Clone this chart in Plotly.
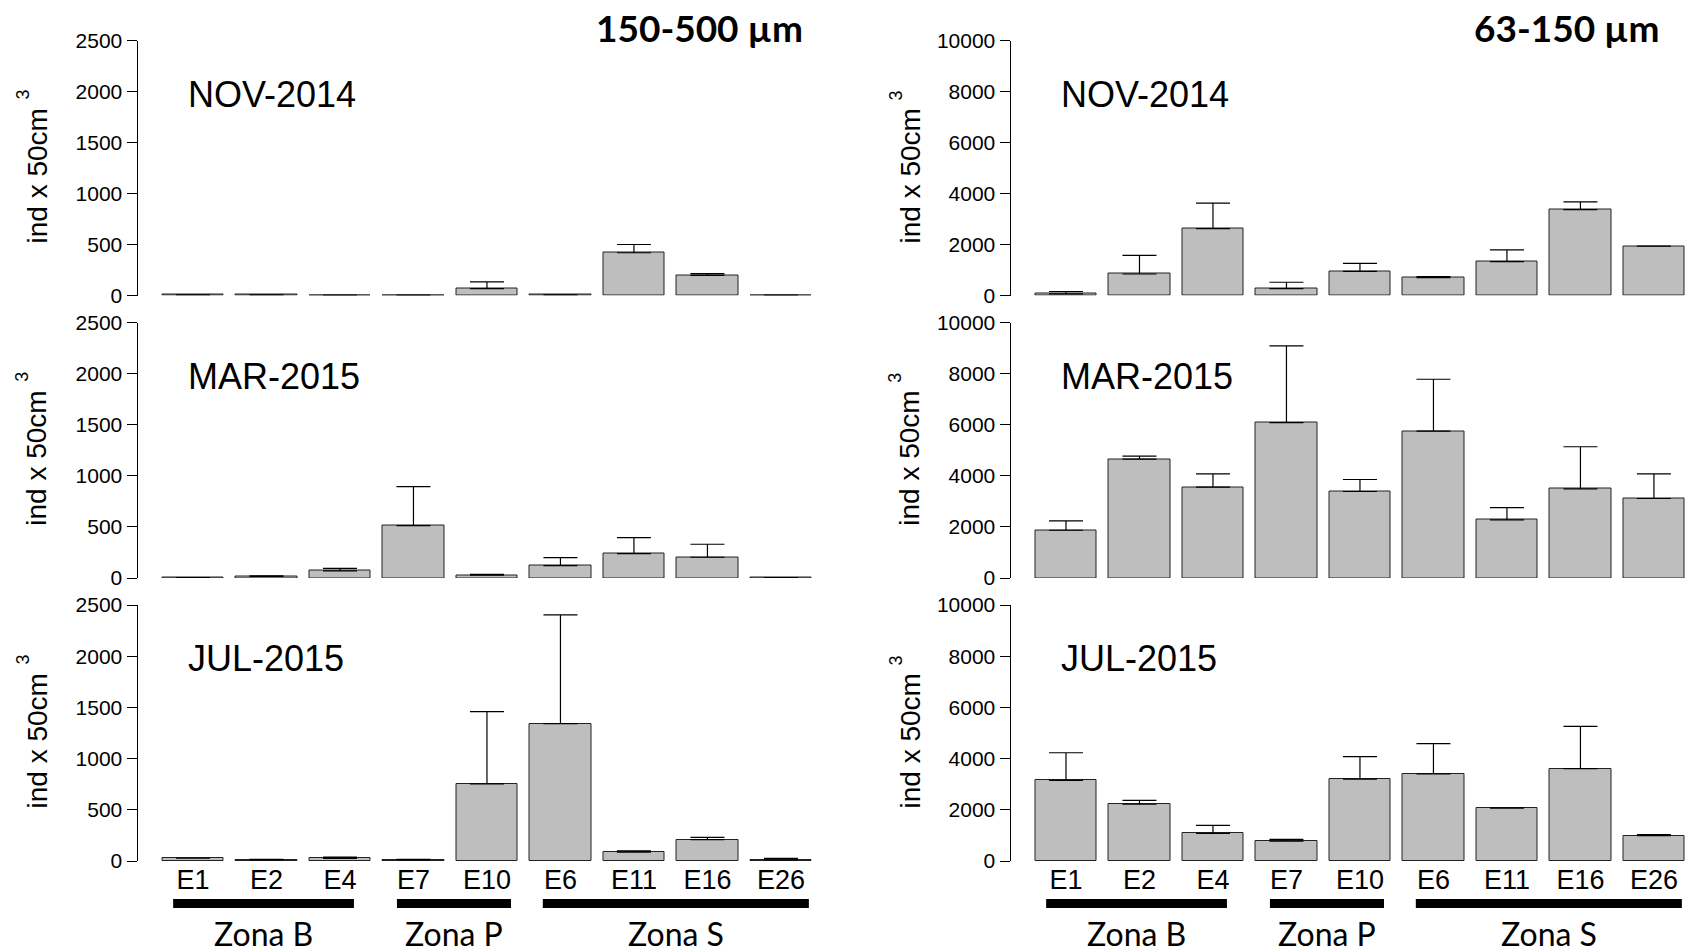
import plotly.graph_objects as go

# ---------------- data ----------------
stations = ["E1", "E2", "E4", "E7", "E10", "E6", "E11", "E16", "E26"]
months = ["NOV-2014", "MAR-2015", "JUL-2015"]

# 150-500 µm (means and upper error)
nov_150 = [5, 5, 3, 3, 68, 5, 419, 198, 3]
nov_150_se = [1, 1, 1, 1, 65, 1, 81, 16, 1]
mar_150 = [3, 16, 69, 513, 29, 121, 239, 203, 3]
mar_150_se = [0, 4, 26, 382, 7, 78, 156, 127, 0]
jul_150 = [29, 10, 26, 10, 753, 1341, 87, 208, 10]
jul_150_se = [0, 6, 12, 6, 705, 1062, 13, 23, 16]

# 63-150 µm
nov_63 = [65, 844, 2623, 273, 948, 701, 1325, 3364, 1935]
nov_63_se = [91, 727, 1000, 246, 312, 39, 467, 311, 0]
mar_63 = [1869, 4654, 3556, 6078, 3386, 5752, 2275, 3490, 3111]
mar_63_se = [366, 117, 522, 3007, 470, 2026, 483, 1647, 967]
jul_63 = [3146, 2217, 1083, 777, 3197, 3401, 2064, 3605, 994]
jul_63_se = [1083, 152, 306, 64, 879, 1185, 12, 1656, 38]

size_titles = ["150-500 µm", "63-150 µm"]
y_max = [2500, 10000]
y_dtick = [500, 2000]

zones = ["Zona B", "Zona P", "Zona S"]
zone_start = [-0.27, 2.775, 4.76]
zone_end = [2.19, 4.327, 8.38]

values = [[nov_150, mar_150, jul_150], [nov_63, mar_63, jul_63]]
errors = [[nov_150_se, mar_150_se, jul_150_se], [nov_63_se, mar_63_se, jul_63_se]]

# ---------------- layout geometry ----------------
W, H = 1689, 952
x_dom = [[137.5 / W, 814 / W], [1010.5 / W, 1687 / W]]
row_px = [(40.5, 295.5), (322.5, 578), (605, 861)]
y_dom = [[1 - b / H, 1 - t / H] for (t, b) in row_px]
x_range = [-0.755, 8.45]

NUM_FONT = "Liberation Sans, Arial, sans-serif"
CAL_FONT = "Lato, Open Sans, sans-serif"

fig = go.Figure()
layout = {}
annotations = []
shapes = []

for c in range(2):
    for r in range(3):
        idx = r * 2 + c + 1
        xa = "x" if idx == 1 else f"x{idx}"
        ya = "y" if idx == 1 else f"y{idx}"
        fig.add_trace(go.Bar(
            x=stations, y=values[c][r],
            xaxis=xa, yaxis=ya,
            width=0.833,
            marker=dict(color="#BEBEBE", line=dict(color="#222222", width=1)),
            error_y=dict(type="data", array=errors[c][r], arrayminus=[0] * 9,
                         symmetric=False, color="black", thickness=1.2, width=17),
            showlegend=False, hoverinfo="x+y",
        ))
        bottom = (r == 2)
        layout["xaxis" if idx == 1 else f"xaxis{idx}"] = dict(
            domain=x_dom[c], anchor=ya, type="category",
            categoryorder="array", categoryarray=stations,
            range=x_range, showline=False, showgrid=False, zeroline=False,
            automargin=False,
            showticklabels=bottom, ticks="",
            tickfont=dict(family=NUM_FONT, size=27, color="black"),
        )
        layout["yaxis" if idx == 1 else f"yaxis{idx}"] = dict(
            domain=y_dom[r], anchor=xa, range=[0, y_max[c]],
            dtick=y_dtick[c], tick0=0, tickformat="d",
            showline=True, linecolor="black", automargin=False,
            linewidth=1, ticks="outside", ticklen=10, tickcolor="black",
            showgrid=False, zeroline=False,
            tickfont=dict(family=NUM_FONT, size=21, color="black"),
        )
        # month label
        annotations.append(dict(
            xref=xa, yref=ya, x=-0.1, y=0.79 * y_max[c],
            text=months[r], showarrow=False, xanchor="left", yanchor="middle",
            font=dict(family=NUM_FONT, size=36, color="black"),
        ))
        # y-axis title (main text + raised superscript)
        pc = (row_px[r][0] + row_px[r][1]) / 2
        tx = [36.5, 909.5][c]
        annotations.append(dict(
            xref="paper", yref="paper", x=tx / W, y=1 - (pc + 8) / H,
            text="ind x 50cm", textangle=-90, showarrow=False,
            xanchor="center", yanchor="middle",
            font=dict(family=NUM_FONT, size=28, color="black"),
        ))
        annotations.append(dict(
            xref="paper", yref="paper", x=(tx - 14) / W, y=1 - (pc - 73) / H,
            text="3", textangle=-90, showarrow=False,
            xanchor="center", yanchor="middle",
            font=dict(family=NUM_FONT, size=18, color="black"),
        ))
    # bottom zone bars and labels
    xa_b = "x5" if c == 0 else "x6"
    for zname, zs, ze in zip(zones, zone_start, zone_end):
        shapes.append(dict(type="rect", xref=xa_b, yref="paper",
                           x0=zs, x1=ze, y0=1 - 908 / H, y1=1 - 899 / H,
                           fillcolor="black", line=dict(width=0)))
        annotations.append(dict(
            xref=xa_b, yref="paper", x=(zs + ze) / 2, y=1 - 933 / H,
            text=zname, showarrow=False, xanchor="center", yanchor="middle",
            font=dict(family=CAL_FONT, size=32, color="black"),
        ))
    # size title
    annotations.append(dict(
        xref="paper", yref="paper", x=[805, 1662][c] / W, y=1 - 27.5 / H,
        text=f"<b>{size_titles[c]}</b>", showarrow=False,
        xanchor="right", yanchor="middle",
        font=dict(family=CAL_FONT, size=37, color="black"),
    ))

fig.update_layout(
    width=W, height=H, margin=dict(l=0, r=0, t=0, b=0, autoexpand=False),
    paper_bgcolor="white", plot_bgcolor="white",
    annotations=annotations, shapes=shapes, bargap=0,
    **layout,
)

fig.write_html(
    "out.html",
    config={"displayModeBar": False},
    post_script="document.body.style.margin='0px';document.body.style.overflow='hidden';",
)
